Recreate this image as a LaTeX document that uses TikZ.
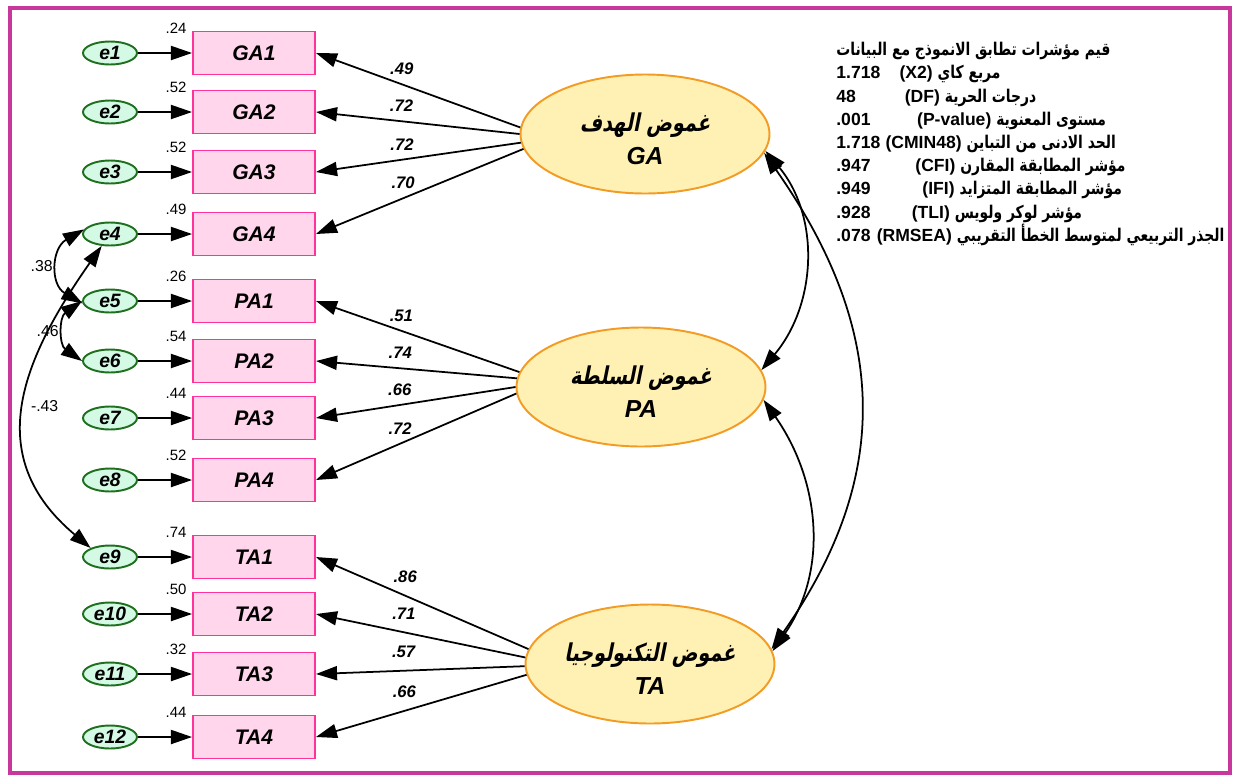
\documentclass[tikz,border=0pt]{standalone}
\usepackage{fontspec}
\setmainfont{Liberation Sans}
\newfontfamily\arabicbold[Script=Arabic,FakeStretch=0.79]{DejaVu Sans Bold}
\newfontfamily\arabicslant[Script=Arabic,FakeSlant=0.2,FakeStretch=0.78]{DejaVu Sans Bold}
\TeXXeTstate=1
\usetikzlibrary{arrows.meta}
\usetikzlibrary{positioning}
\usetikzlibrary{quotes}
\usetikzlibrary{shapes.geometric}
\definecolor{framepink}{HTML}{C8379C}
\definecolor{boxfill}{HTML}{FFD6EC}
\definecolor{boxdraw}{HTML}{FF3399}
\definecolor{errfill}{HTML}{D4FAE6}
\definecolor{errdraw}{HTML}{1F6F1F}
\definecolor{latfill}{HTML}{FFF0B3}
\definecolor{latdraw}{HTML}{F39C25}
\newcommand{\indrow}[4]{%
    \node[errnode] (#2) at (110,#3) {#2};
    \node[obsbox]  (#1) at (254,#3) {#1};
    \node[varlabel] at ([xshift=-3pt,yshift=1pt]#1.north west) {#4};
    \draw[arr] (#2) -- (#1);
}
\newcommand{\latent}[2]{\rule{0pt}{16pt}{\upshape\mdseries\arabicslant #1}\\#2}
\newcommand{\fitline}[4]{\makebox[#2][l]{#1}(#3) {\upshape\mdseries\arabicbold #4}}

\begin{document}
\begin{tikzpicture}[x=0.02cm, y=-0.02cm,
                    errnode/.style={ellipse, draw=errdraw, fill=errfill, line width=1.1pt,
                        minimum width=1.08cm, minimum height=0.46cm, inner sep=0pt,
                        font=\bfseries\itshape\fontsize{11}{13}\selectfont},
                    obsbox/.style={rectangle, draw=boxdraw, fill=boxfill, line width=1.1pt,
                        minimum width=2.44cm, minimum height=0.86cm,
                        font=\bfseries\itshape\fontsize{12}{14}\selectfont},
                    latnode/.style={ellipse, draw=latdraw, fill=latfill, line width=1.1pt,
                        minimum width=4.98cm, minimum height=2.38cm, align=center, inner sep=0pt,
                        font=\bfseries\itshape\fontsize{14}{19}\selectfont},
                    varlabel/.style={anchor=east, inner sep=0pt, font=\fontsize{8.5}{10}\selectfont},
                    covlabel/.style={inner sep=0pt, font=\fontsize{9}{11}\selectfont},
                    fittext/.style={anchor=north west, align=left, inner sep=0pt,
                        font=\bfseries\fontsize{10}{13.2}\selectfont},
                    arr/.style={line width=1pt, -{Triangle[length=12pt,width=8pt]}},
                    cov/.style={line width=1pt,
                        {Triangle[length=12pt,width=8pt]}-{Triangle[length=12pt,width=8pt]}},
                    every edge quotes/.style={inner sep=0pt, pos=0.58, above=5pt,
                        font=\bfseries\itshape\fontsize{9.5}{11}\selectfont}]

    \useasboundingbox (0,0) rectangle (1237,778);
    \draw[framepink, line width=2.8pt] (10,8) rectangle (1230,773);

    % indicators with their errors
    \indrow{GA1}{e1}{53}{.24}
    \indrow{GA2}{e2}{112}{.52}
    \indrow{GA3}{e3}{172}{.52}
    \indrow{GA4}{e4}{234}{.49}
    \indrow{PA1}{e5}{301}{.26}
    \indrow{PA2}{e6}{361}{.54}
    \indrow{PA3}{e7}{418}{.44}
    \indrow{PA4}{e8}{480}{.52}
    \indrow{TA1}{e9}{557}{.74}
    \indrow{TA2}{e10}{614}{.50}
    \indrow{TA3}{e11}{674}{.32}
    \indrow{TA4}{e12}{737}{.44}

    % latent factors
    \node[latnode] (GA) at (645,134) {\latent{\beginR غموض الهدف\endR}{GA}};
    \node[latnode] (PA) at (641,387) {\latent{\beginR غموض السلطة\endR}{PA}};
    \node[latnode] (TA) at (650,664) {\latent{\beginR غموض التكنولوجيا\endR}{TA}};

    % loadings
    \path[arr] (GA.177) edge [".49"] (GA1.east)
               (GA.180) edge [".72"] (GA2.east)
               (GA.184) edge [".72"] (GA3.east)
               (GA.187) edge [".70"] (GA4.east);
    \path[arr] (PA.173) edge [".51"] (PA1.east)
               (PA.176) edge [".74"] (PA2.east)
               (PA.180) edge [".66"] (PA3.east)
               (PA.183) edge [".72"] (PA4.east);
    \path[arr] (TA.173) edge [".86" above=7pt] (TA1.east)
               (TA.177) edge [".71" above=7pt] (TA2.east)
               (TA.181) edge [".57" above=7pt] (TA3.east)
               (TA.185) edge [".66" above=7pt] (TA4.east);

    % error covariances
    \draw[cov] (e4.170) to[out=210, in=150, looseness=1.3] node[covlabel, left=3pt] {.38} (e5.185);
    \draw[cov] (e5.180) to[out=215, in=145, looseness=1.2] node[covlabel, left=3pt] {.46} (e6.180);
    \draw[cov] (e4.235) to[out=235, in=140, looseness=1.2] node[covlabel, right=3pt] {-.43} (e9.155);

    % factor covariances
    \draw[cov] (GA.-8) to[out=-50, in=50] (PA.8);
    \draw[cov] (GA.-9) to[out=-55, in=55, looseness=1.1] (TA.7);
    \draw[cov] (PA.-6) to[out=-55, in=55] (TA.6);

    % fit indices
    \node[fittext] (fit) at (836,42) {%
        {\upshape\mdseries\arabicbold\beginR قيم مؤشرات تطابق الانموذج مع البيانات\endR}\\
        \fitline{1.718}{36pt}{X2}{\beginR مربع كاي\endR}\\
        \fitline{48}{39pt}{DF}{\beginR درجات الحرية\endR}\\
        \fitline{.001}{46pt}{P-value}{\beginR مستوى المعنوية\endR}\\
        \fitline{1.718}{28pt}{CMIN48}{\beginR الحد الادنى من التباين\endR}\\
        \fitline{.947}{45pt}{CFI}{\beginR مؤشر المطابقة المقارن\endR}\\
        \fitline{.949}{49pt}{IFI}{\beginR مؤشر المطابقة المتزايد\endR}\\
        \fitline{.928}{43pt}{TLI}{\beginR مؤشر لوكر ولويس\endR}\\
        \fitline{.078}{23pt}{RMSEA}{\beginR الجذر التربيعي لمتوسط الخطأ التقريبي\endR}};
\end{tikzpicture}
\end{document}
